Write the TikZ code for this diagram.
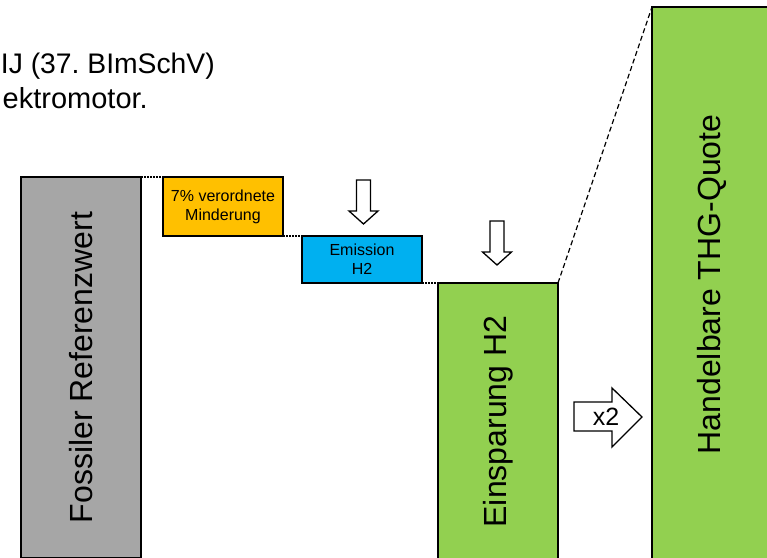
\documentclass[tikz,border=0pt]{standalone}
\usepackage{fontspec}
\setmainfont{Liberation Sans}
\usepackage{graphicx}
\usetikzlibrary{positioning,calc}
\frenchspacing
\definecolor{RefGray}{HTML}{A6A6A6}
\definecolor{CutGold}{HTML}{FFC000}
\definecolor{EmiBlue}{HTML}{00B0F0}
\definecolor{SaveGreen}{HTML}{92D050}
\tikzset{
  barbox/.style={draw=black, line width=1.5pt, outer sep=0pt, inner sep=0pt, anchor=north west, minimum width=120pt, font=\fontsize{32}{38}\selectfont},
  stepbox/.style={draw=black, line width=1.5pt, outer sep=0pt, inner sep=0pt, anchor=north west, minimum width=120pt, align=center, font=\fontsize{16}{19}\selectfont},
  headline/.style={anchor=base east, inner sep=0pt, font=\fontsize{28.3}{34}\selectfont},
  figdots/.style={line width=1.5pt, dash pattern=on 1.5pt off 1.5pt},
  figdash/.style={line width=1.2pt, dash pattern=on 5pt off 3pt},
  hollow/.style={draw=black, fill=white, line width=1.3pt, line join=miter},
  downarrow/.pic={\draw[hollow] (-7,0) -- (7,0) -- (7,31) -- (14.5,31) -- (0,44) -- (-14.5,31) -- (-7,31) -- cycle;}
}
\begin{document}
\begin{tikzpicture}[x=1pt,y=-1pt]
\useasboundingbox (0,0) rectangle (767,557);
\clip (0,0) rectangle (767,557);
% cut-off heading
\node[headline] (head1) at (215,73) {IJ (37. BImSchV)};
\node[headline, font=\fontsize{29}{35}\selectfont] (head2) at (148,108) {ektromotor.};
% bars
\node[barbox, fill=RefGray, minimum height=381pt] (fossil) at (21,177) {\rotatebox{90}{Fossiler Referenzwert}};
\node[stepbox, fill=CutGold, minimum height=59pt] (mind) at (163,177) {7\% verordnete\\Minderung};
\node[stepbox, fill=EmiBlue, minimum height=47pt] (emis) at (302,236) {Emission\\H2};
\node[barbox, fill=SaveGreen, minimum height=277pt] (spar) at (438,283) {\rotatebox{90}{Einsparung H2}};
\node[barbox, fill=SaveGreen, minimum height=555pt] (quote) at (652,7) {\rotatebox{90}{Handelbare THG-Quote}};
% steps
\draw[figdots] (fossil.north east) -- (mind.north west);
\draw[figdots] (mind.south east) -- (emis.north west);
\draw[figdots] (emis.south east) -- (spar.north west);
\draw[figdash] (spar.north east) -- (quote.north west);
% hollow arrows
\pic at (363.5,180) {downarrow};
\pic at (497,221) {downarrow};
\draw[hollow] (574,402) -- (612,402) -- (612,388) -- (642,417) -- (612,447) -- (612,431) -- (574,431) -- cycle;
\node[font=\fontsize{25}{30}\selectfont, inner sep=0pt] (times) at (606,417) {x2};
\end{tikzpicture}
\end{document}
